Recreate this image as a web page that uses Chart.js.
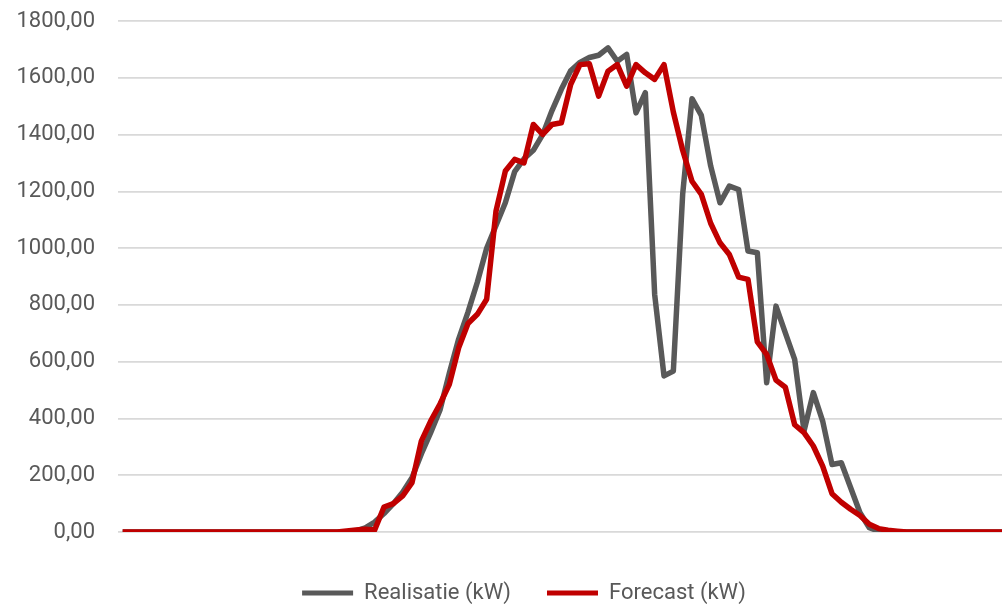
<!DOCTYPE html>
<html>
<head>
<meta charset="utf-8">
<script src="https://cdn.jsdelivr.net/npm/chart.js@4/dist/chart.umd.min.js"></script>
<style>
  html, body { margin: 0; padding: 0; background: #ffffff; overflow: hidden; }
  #wrap { width: 1048px; height: 629px; margin-top: -15px; }
</style>
</head>
<body>
<div id="wrap"><canvas id="c" width="1048" height="629"></canvas></div>
<script>
// Categories: quarter-hours of the day
const timeLabels = [
  "00:00","00:15","00:30","00:45","01:00","01:15","01:30","01:45",
  "02:00","02:15","02:30","02:45","03:00","03:15","03:30","03:45",
  "04:00","04:15","04:30","04:45","05:00","05:15","05:30","05:45",
  "06:00","06:15","06:30","06:45","07:00","07:15","07:30","07:45",
  "08:00","08:15","08:30","08:45","09:00","09:15","09:30","09:45",
  "10:00","10:15","10:30","10:45","11:00","11:15","11:30","11:45",
  "12:00","12:15","12:30","12:45","13:00","13:15","13:30","13:45",
  "14:00","14:15","14:30","14:45","15:00","15:15","15:30","15:45",
  "16:00","16:15","16:30","16:45","17:00","17:15","17:30","17:45",
  "18:00","18:15","18:30","18:45","19:00","19:15","19:30","19:45",
  "20:00","20:15","20:30","20:45","21:00","21:15","21:30","21:45",
  "22:00","22:15","22:30","22:45","23:00","23:15","23:30","23:45"
];

// Series: Realisatie (kW)
const realisatie = [
  0,0,0,0,0,0,0,0, 0,0,0,0,0,0,0,0, 0,0,0,0,0,0,0,0,
  1,4,15,35,65,100,140,191,
  275,350,430,560,680,775,880,1000,
  1080,1160,1270,1315,1345,1400,1485,1560,
  1625,1655,1672,1680,1706,1659,1683,1477,
  1548,837,550,567,1190,1527,1468,1290,
  1160,1219,1207,990,984,526,796,702,
  608,356,491,391,238,244,156,68,
  15,3,0,0,0,0,0,0, 0,0,0,0,0,0,0,0
];

// Series: Forecast (kW)
const forecast = [
  0,0,0,0,0,0,0,0, 0,0,0,0,0,0,0,0, 0,0,0,0,0,0,0,0,
  4,7,10,7,88,100,127,174,
  320,391,451,520,649,735,767,820,
  1131,1272,1313,1301,1436,1401,1436,1442,
  1577,1647,1650,1536,1624,1647,1571,1647,
  1618,1595,1647,1480,1345,1236,1190,1088,
  1019,978,898,890,670,626,535,510,
  378,350,303,232,135,105,80,58,
  27,12,6,3,0,0,0,0, 0,0,0,0,0,0,0,0
];

// Y-axis tick values
const yTicks = [0, 200, 400, 600, 800, 1000, 1200, 1400, 1600, 1800];

const seriesNames = ["Realisatie (kW)", "Forecast (kW)"];
const seriesColors = ["#595959", "#C00000"];

const TEXT = "#595959";
const FONT = "Roboto";

function build() {
  const ctx = document.getElementById("c").getContext("2d");
  new Chart(ctx, {
    type: "line",
    data: {
      labels: timeLabels,
      datasets: [
        {
          label: seriesNames[0],
          data: realisatie,
          borderColor: seriesColors[0],
          backgroundColor: seriesColors[0],
          borderWidth: 5.5,
          pointRadius: 0,
          tension: 0,
          fill: false,
          borderJoinStyle: "round",
          order: 2
        },
        {
          label: seriesNames[1],
          data: forecast,
          borderColor: seriesColors[1],
          backgroundColor: seriesColors[1],
          borderWidth: 5.5,
          pointRadius: 0,
          tension: 0,
          fill: false,
          borderJoinStyle: "round",
          order: 1
        }
      ]
    },
    options: {
      responsive: false,
      animation: false,
      devicePixelRatio: 1,
      layout: { padding: { top: 5, left: 0, right: 0, bottom: 0 } },
      scales: {
        x: {
          type: "category",
          offset: true,
          display: true,
          grid: { display: false, drawTicks: false },
          border: { display: false },
          ticks: { display: false },
          afterFit: (s) => { s.height = 14; }
        },
        y: {
          min: yTicks[0],
          max: yTicks[yTicks.length - 1],
          afterBuildTicks: (s) => { s.ticks = yTicks.map(v => ({ value: v })); },
          grid: { color: "#D9D9D9", lineWidth: 1.8, drawTicks: false },
          border: { display: false },
          ticks: {
            color: TEXT,
            font: { family: FONT, size: 22 },
            padding: 23,
            callback: (v) => Number(v).toFixed(2).replace(".", ",")
          },
          afterFit: (s) => { s.width = 118; }
        },
        yRight: {
          type: "linear",
          position: "right",
          display: true,
          grid: { display: false, drawTicks: false },
          border: { display: false },
          ticks: { display: false },
          afterFit: (s) => { s.width = 34; }
        }
      },
      plugins: {
        tooltip: { enabled: false },
        legend: {
          display: true,
          position: "bottom",
          labels: {
            color: TEXT,
            font: { family: FONT, size: 22 },
            boxWidth: 51,
            boxHeight: 5,
            padding: 36,
            sort: (a, b) => a.datasetIndex - b.datasetIndex,
            generateLabels: (chart) => {
              const items = Chart.defaults.plugins.legend.labels.generateLabels(chart);
              items.forEach(it => {
                it.fillStyle = seriesColors[it.datasetIndex];
                it.strokeStyle = seriesColors[it.datasetIndex];
                it.lineWidth = 0;
              });
              return items;
            }
          }
        }
      }
    }
  });
}

if (document.fonts && document.fonts.load) {
  document.fonts.load("22px Roboto").then(build, build);
} else {
  build();
}
</script>
</body>
</html>
